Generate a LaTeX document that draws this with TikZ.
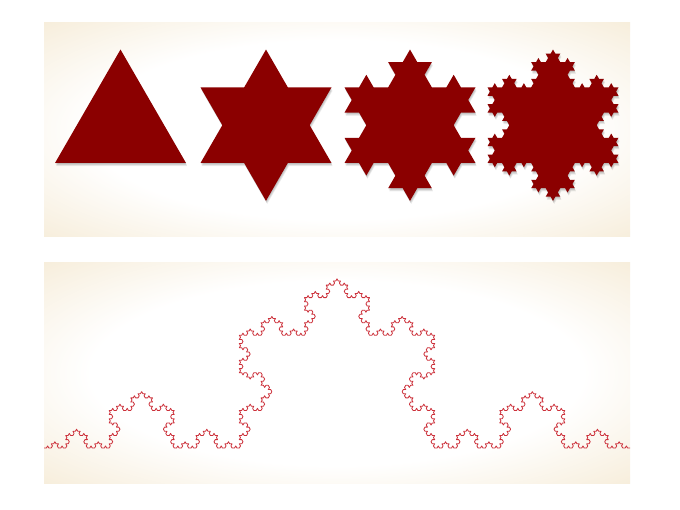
\documentclass[tikz,border=0pt]{standalone}
\usetikzlibrary{lindenmayersystems}
\definecolor{cream}{RGB}{246,236,216}
\definecolor{flake}{RGB}{139,0,0}
\definecolor{curvered}{RGB}{204,48,58}
\pgfdeclarelindenmayersystem{KochFlake}{\rule{F -> F-F++F-F}}
\pgfdeclarelindenmayersystem{KochCurve}{\rule{F -> F+F--F+F}}
\pgfdeclareradialshading{panelshade}{\pgfpoint{0bp}{0bp}}{color(0bp)=(white); color(21bp)=(white); color(37bp)=(cream); color(50bp)=(cream)}
\tikzset{
  flakefill/.style={fill=flake, draw=none},
  flakeshadow/.style={fill=black, draw=none, opacity=0.07},
  curveline/.style={draw=curvered, line width=0.8pt, line join=round}
}
\newcommand{\myflake}[4]{% x, y, order, step
  \foreach \o in {1,2,3,4}{
    \begin{scope}[shift={(#1+0.3*\o,#2-0.8*\o)}]
    \fill[flakeshadow] [l-system={KochFlake, axiom=F++F++F, order=#3, step=#4, angle=60}] l-system;
    \end{scope}
  }
  \begin{scope}[shift={(#1,#2)}]
  \fill[flakefill] [l-system={KochFlake, axiom=F++F++F, order=#3, step=#4, angle=60}] l-system;
  \end{scope}
}
\begin{document}
\begin{tikzpicture}[x=1pt,y=1pt]
\useasboundingbox (0,0) rectangle (680,509);
\fill[white] (0,0) rectangle (680,509);
% panels
\shade[shading=panelshade] (44,272) rectangle (630,486);
\shade[shading=panelshade] (44,26) rectangle (630,246);
% snowflake iterations
\myflake{55}{346}{0}{131pt}
\myflake{200.5}{346}{1}{43.6667pt}
\myflake{344.5}{346}{2}{14.5556pt}
\myflake{487.5}{346}{3}{4.85185pt}
% Koch curve
\begin{scope}[shift={(44,61)}]
\draw[curveline] [l-system={KochCurve, axiom=F, order=5, step=2.41152pt, angle=60}] l-system;
\end{scope}
\end{tikzpicture}
\end{document}
